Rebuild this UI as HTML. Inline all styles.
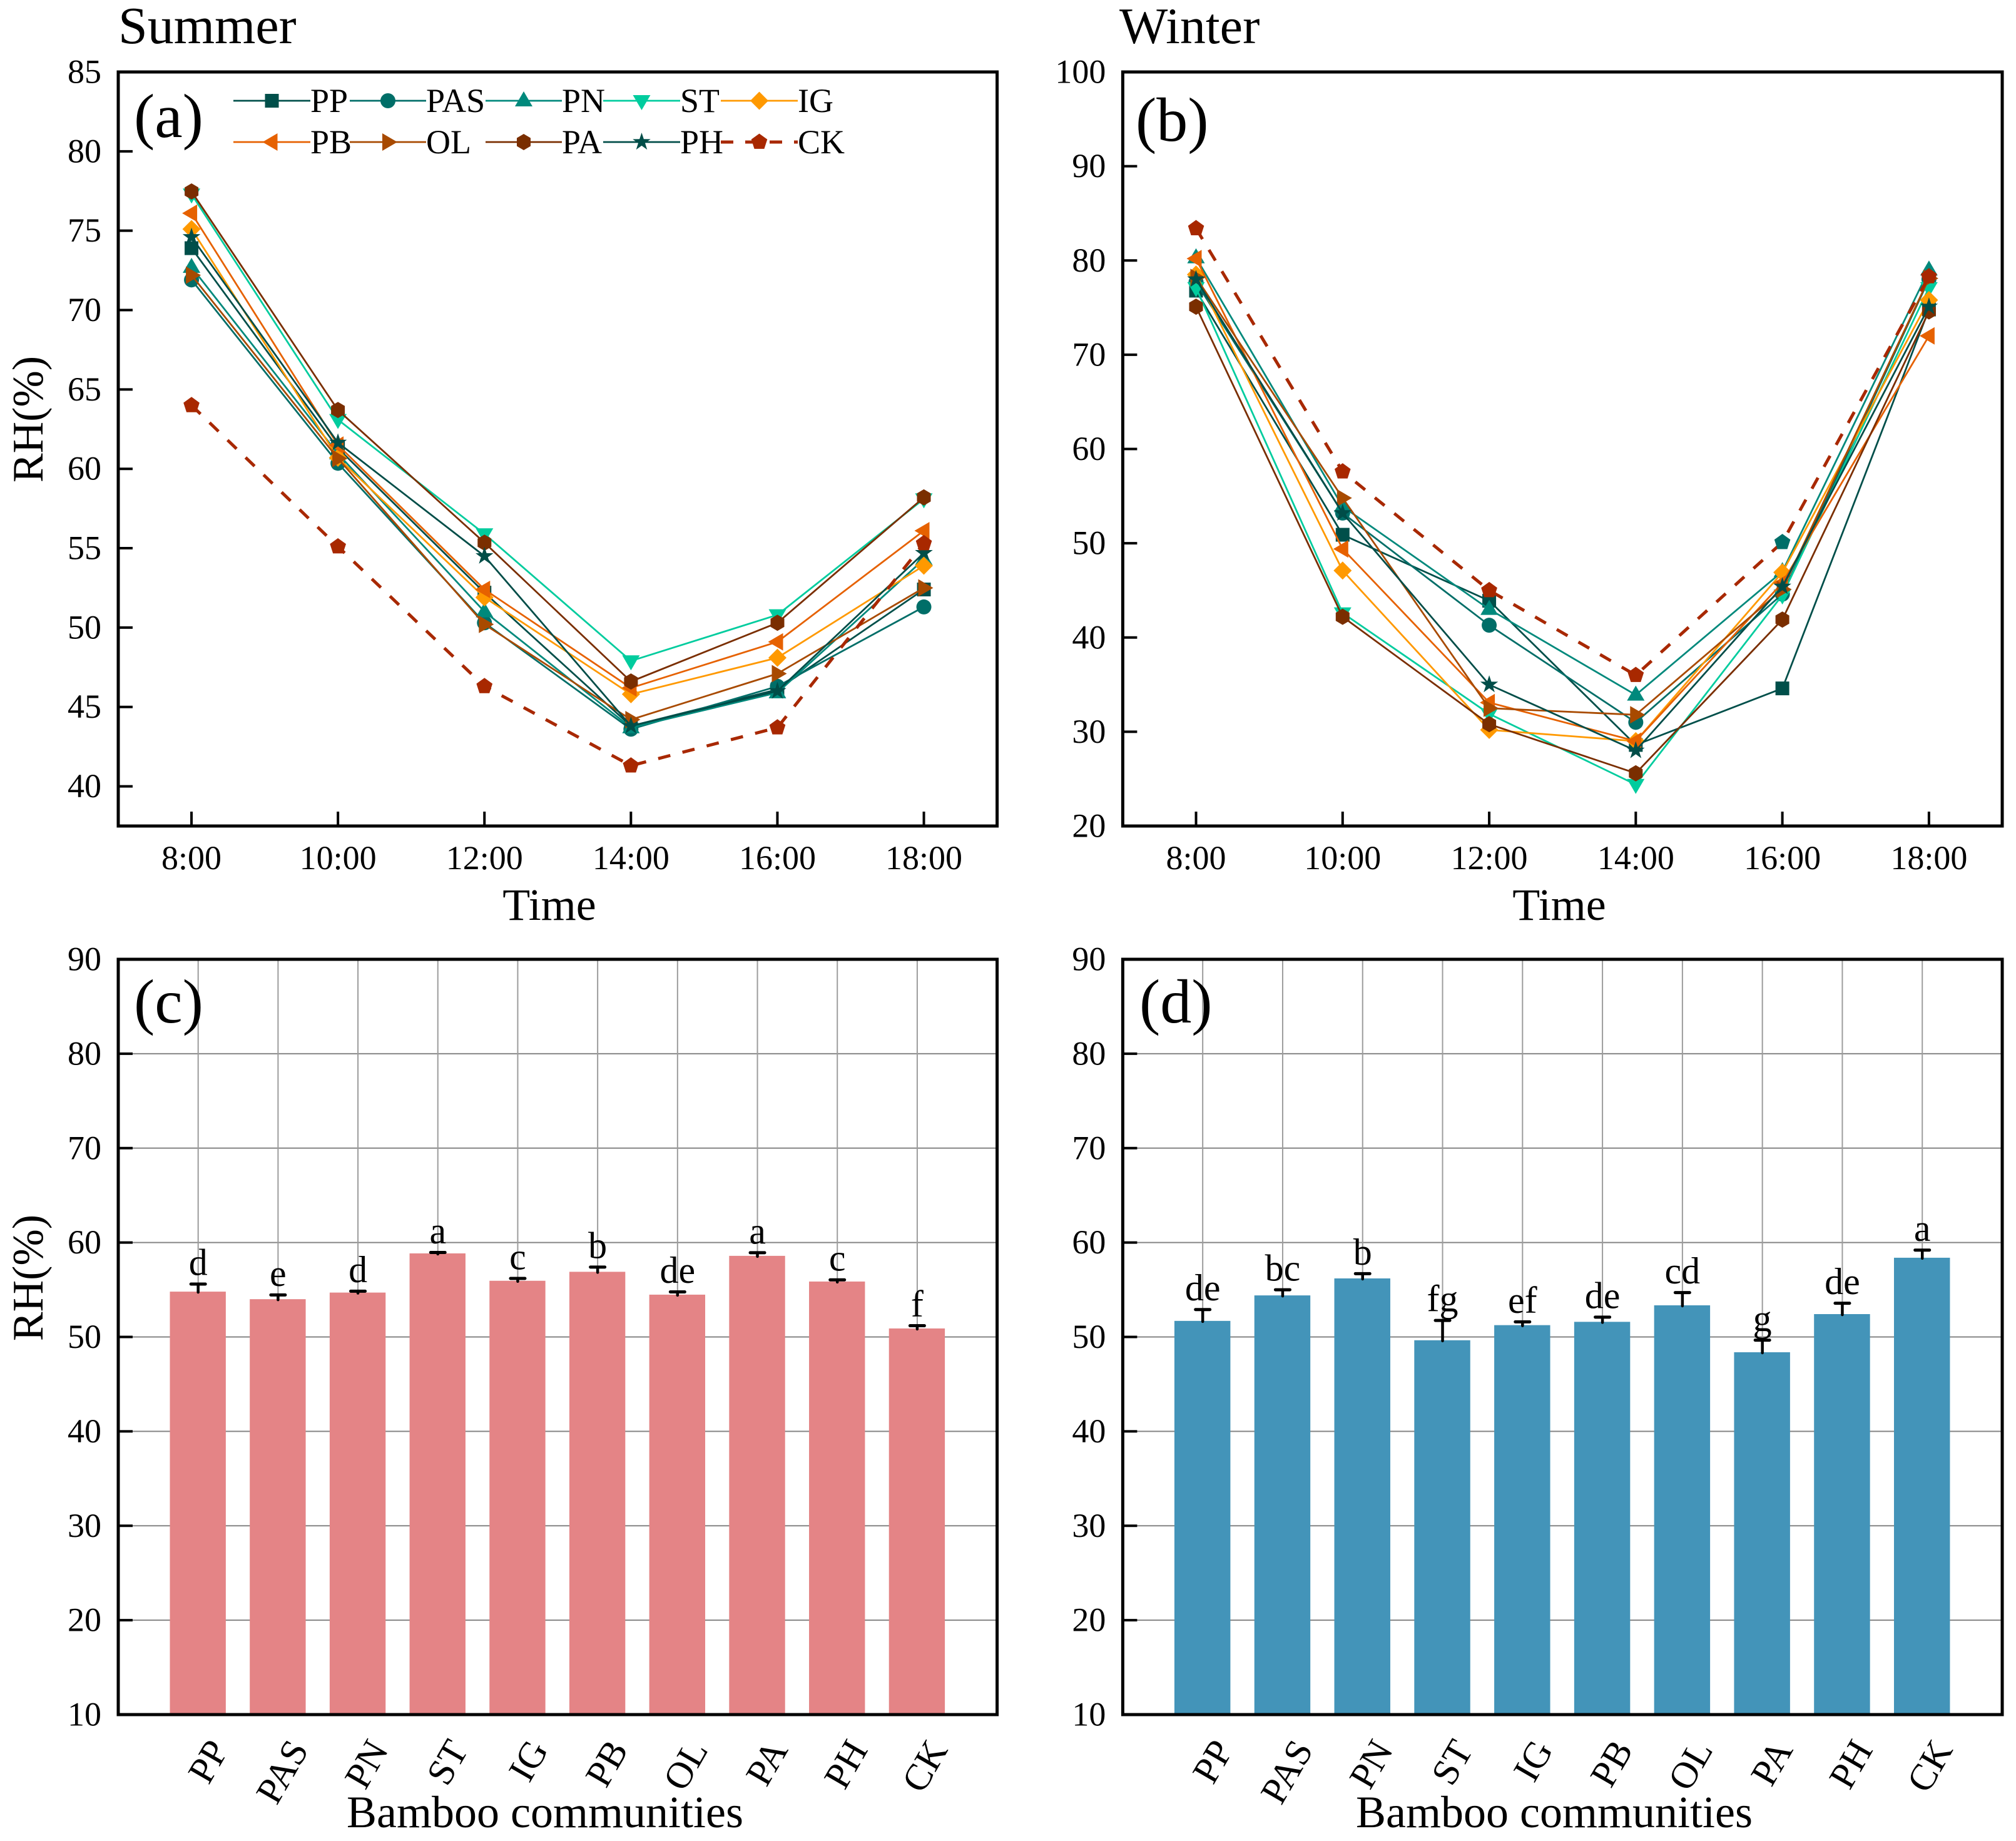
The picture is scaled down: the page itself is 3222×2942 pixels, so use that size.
<!DOCTYPE html>
<html lang="en">
<head>
<meta charset="utf-8">
<title>Relative humidity of bamboo communities</title>
<style>
html,body{margin:0;padding:0;background:#fff;}
svg{display:block;font-family:"Liberation Serif","Times New Roman",serif;}
</style>
</head>
<body>
<svg id="chart" xmlns="http://www.w3.org/2000/svg" width="3222" height="2942" viewBox="0 0 3222 2942">
<rect x="0" y="0" width="3222" height="2942" fill="#fff"/>
<text x="189" y="69" font-size="84">Summer</text>
<text x="1789" y="69" font-size="82">Winter</text>
<text x="878" y="1470" font-size="72" text-anchor="middle">Time</text>
<text x="2492" y="1470" font-size="72" text-anchor="middle">Time</text>
<text x="871" y="2920" font-size="72" text-anchor="middle">Bamboo communities</text>
<text x="2484" y="2920" font-size="72" text-anchor="middle">Bamboo communities</text>
<text transform="translate(68,670) rotate(-90)" font-size="70" text-anchor="middle">RH(%)</text>
<text transform="translate(68,2042) rotate(-90)" font-size="70" text-anchor="middle">RH(%)</text>
<g id="layer"></g>
<text x="214" y="219" font-size="100">(a)</text>
<text x="1815" y="225" font-size="100">(b)</text>
<text x="214" y="1634" font-size="100">(c)</text>
<text x="1821" y="1634" font-size="100">(d)</text>
</svg>
<script>
// ---- chart data ----
const timeLabels = ['8:00','10:00','12:00','14:00','16:00','18:00'];
const communities = ['PP','PAS','PN','ST','IG','PB','OL','PA','PH','CK'];

const summerTicks = [40,45,50,55,60,65,70,75,80,85];
const winterTicks = [20,30,40,50,60,70,80,90,100];
const barTicks = [10,20,30,40,50,60,70,80,90];

const summerPP  = [73.9,61.3,52.2,43.8,46.1,52.4];
const summerPAS = [71.9,60.35,50.3,43.6,46.3,51.3];
const summerPN  = [72.7,60.95,51.0,43.7,45.9,54.3];
const summerST  = [77.3,63.1,55.9,47.9,50.8,58.1];
const summerIG  = [75.1,60.7,51.9,45.8,48.1,53.9];
const summerPB  = [76.1,61.5,52.4,46.2,49.1,56.1];
const summerOL  = [72.2,60.65,50.2,44.2,47.1,52.5];
const summerPA  = [77.47,63.7,55.35,46.6,50.3,58.2];
const summerPH  = [74.6,61.65,54.5,43.8,46.0,54.7];
const summerCK  = [64.0,55.1,46.3,41.3,43.7,55.3];

const winterPP  = [76.8,50.9,43.9,28.6,34.6,74.8];
const winterPAS = [77.7,53.2,41.3,31.0,44.6,78.0];
const winterPN  = [80.3,53.9,43.0,33.9,47.0,79.0];
const winterST  = [77.1,42.6,31.9,24.4,44.5,77.1];
const winterIG  = [78.5,47.1,30.2,29.0,46.9,75.8];
const winterPB  = [80.2,49.4,33.1,29.0,45.8,72.0];
const winterOL  = [78.2,54.8,32.5,31.8,45.1,78.1];
const winterPA  = [75.1,42.2,30.8,25.6,41.9,74.6];
const winterPH  = [78.0,53.2,35.0,28.0,45.4,75.1];
const winterCK  = [83.4,57.6,45.0,36.0,50.1,78.3];

const summerBars = [54.8,54.0,54.7,58.85,55.95,56.9,54.48,58.59,55.87,50.9];
const summerErrs = [0.8,0.45,0.15,0.1,0.25,0.5,0.29,0.33,0.18,0.29];
const summerSig  = ['d','e','d','a','c','b','de','a','c','f'];

const winterBars = [51.7,54.4,56.2,49.65,51.25,51.6,53.35,48.38,52.42,58.39];
const winterErrs = [1.2,0.6,0.5,2.1,0.35,0.5,1.35,1.28,1.15,0.81];
const winterSig  = ['de','bc','b','fg','ef','de','cd','g','de','a'];

const summerSeries = [summerPP,summerPAS,summerPN,summerST,summerIG,summerPB,summerOL,summerPA,summerPH,summerCK];
const winterSeries = [winterPP,winterPAS,winterPN,winterST,winterIG,winterPB,winterOL,winterPA,winterPH,winterCK];

// ---- styling ----
const seriesColors = ['#004f4a','#006e68','#00897c','#00cc9e','#ff9900','#e66100','#a84a00','#7a2e00','#004d48','#a82800'];
const seriesShapes = ['square','circle','up','down','diamond','left','right','hexagon','star','pentagon'];
const NS = 'http://www.w3.org/2000/svg';
const layer = document.getElementById('layer');

function make(tag, attrs, parent){
  const el = document.createElementNS(NS, tag);
  for (const k in attrs) el.setAttribute(k, attrs[k]);
  (parent || layer).appendChild(el);
  return el;
}
function polyPts(cx, cy, list){
  return list.map(p => (cx+p[0]).toFixed(1)+','+(cy+p[1]).toFixed(1)).join(' ');
}
function regular(n, r, startDeg){
  const out = [];
  for (let i=0;i<n;i++){
    const a = (startDeg + i*360/n)*Math.PI/180;
    out.push([r*Math.cos(a), r*Math.sin(a)]);
  }
  return out;
}
function starPts(R, r){
  const out = [];
  for (let i=0;i<10;i++){
    const a = (-90 + i*36)*Math.PI/180;
    const q = i%2===0 ? R : r;
    out.push([q*Math.cos(a), q*Math.sin(a)]);
  }
  return out;
}
function drawMarker(shape, cx, cy, color, parent){
  if (shape==='circle') return make('circle',{cx:cx,cy:cy,r:12,fill:color},parent);
  if (shape==='square') return make('rect',{x:cx-11,y:cy-11,width:22,height:22,fill:color},parent);
  let p;
  if (shape==='up') p=[[0,-15],[14,9],[-14,9]];
  if (shape==='down') p=[[0,15],[14,-9],[-14,-9]];
  if (shape==='left') p=[[-15,0],[9,-14],[9,14]];
  if (shape==='right') p=[[15,0],[-9,-14],[-9,14]];
  if (shape==='diamond') p=[[0,-14.5],[14.5,0],[0,14.5],[-14.5,0]];
  if (shape==='hexagon') p=[[0,-13],[11,-6.5],[11,6.5],[0,13],[-11,6.5],[-11,-6.5]];
  if (shape==='pentagon') p=regular(5,13.5,-90);
  if (shape==='star') p=starPts(15,5.8);
  return make('polygon',{points:polyPts(cx,cy,p),fill:color},parent);
}
function drawFrame(box, prefix){
  const f = make('rect',{x:box.left,y:box.top,width:box.right-box.left,height:box.bottom-box.top,fill:'none',stroke:'#000','stroke-width':5});
  
  
}
function drawYAxis(box, ticks, yOf, prefix){
  const g = make('g',{});
  
  
  ticks.forEach(t => {
    const y = yOf(t);
    if (y > box.top + 1 && y < box.bottom - 1) {
      make('line',{x1:box.left,x2:box.left+23,y1:y,y2:y,stroke:'#000','stroke-width':4},g);
    }
    const lb = make('text',{x:box.left-27,y:y+17.5,'font-size':54,'text-anchor':'end',fill:'#000'},g);
    lb.textContent = t;
  });
}

// ---- line panels ----
function linePanel(box, ticks, yMin, yMax, seriesList, prefix, overrideIdx){
  const step = (box.right-box.left)/6;
  const xOf = i => box.left + step*(i+0.5);
  const yOf = v => box.bottom - (v-yMin)/(yMax-yMin)*(box.bottom-box.top);
  drawYAxis(box, ticks, yOf, prefix);
  const xg = make('g',{});
  
  
  timeLabels.forEach((t,i) => {
    const x = xOf(i);
    make('line',{x1:x,x2:x,y1:box.bottom,y2:box.bottom-23,stroke:'#000','stroke-width':4},xg);
    const lb = make('text',{x:x,y:1389,'font-size':54,'text-anchor':'middle',fill:'#000'},xg);
    lb.textContent = t;
  });
  seriesList.forEach((vals,s) => {
    const g = make('g',{});
    
    
    const pts = vals.map((v,i) => xOf(i).toFixed(1)+','+yOf(v).toFixed(1)).join(' ');
    const isCK = communities[s]==='CK';
    const attrs = {points:pts,fill:'none',stroke:seriesColors[s],'stroke-width':isCK?5:2.8,'stroke-linejoin':'round'};
    if (isCK) attrs['stroke-dasharray'] = '20 20';
    make('polyline',attrs,g);
    vals.forEach((v,i) => {
      const c = (isCK && i===overrideIdx) ? seriesColors[1] : seriesColors[s];
      drawMarker(seriesShapes[s], xOf(i), yOf(v), c, g);
    });
  });
  drawFrame(box, prefix);
}

// ---- bar panels ----
function barPanel(box, ticks, yMin, yMax, vals, errs, sig, color, prefix){
  const step = (box.right-box.left)/11;
  const xOf = i => box.left + step*(i+1);
  const yOf = v => box.bottom - (v-yMin)/(yMax-yMin)*(box.bottom-box.top);
  const grid = make('g',{});
  
  
  ticks.forEach(t => {
    const y = yOf(t);
    if (y > box.top + 1 && y < box.bottom - 1) {
      make('line',{x1:box.left,x2:box.right,y1:y,y2:y,stroke:'#858585','stroke-width':2},grid);
    }
  });
  communities.forEach((c,i) => {
    make('line',{x1:xOf(i),x2:xOf(i),y1:box.top,y2:box.bottom,stroke:'#9c9c9c','stroke-width':2},grid);
  });
  drawYAxis(box, ticks, yOf, prefix);
  vals.forEach((v,i) => {
    const x = xOf(i);
    const w = step*0.7;
    const bar = make('rect',{x:x-w/2-0.5,y:yOf(v),width:w,height:box.bottom-yOf(v),fill:color});
    
    
    const top = yOf(v+errs[i]);
    const eg = make('g',{stroke:'#000','stroke-linecap':'round'});
    
    
    make('line',{x1:x,x2:x,y1:top,y2:yOf(v)+1,'stroke-width':4.5},eg);
    make('line',{x1:x-11.5,x2:x+11.5,y1:top,y2:top,'stroke-width':5},eg);
    const s = make('text',{x:x,y:top-14.5,'font-size':60,'text-anchor':'middle',fill:'#000'});
    s.textContent = sig[i];
    
    
    const ex = x + 50, ey = 2796;
    const lb = make('text',{x:ex,y:ey,'font-size':60,'text-anchor':'end',fill:'#000',transform:'rotate(-60 '+ex+' '+ey+')'});
    lb.textContent = communities[i];
    
    
  });
  drawFrame(box, prefix);
}

const rowTop = {top:115,bottom:1320};
const rowBot = {top:1533,bottom:2740};
const colL = {left:189,right:1593.6};
const colR = {left:1794.4,right:3200};

linePanel(Object.assign({},colL,rowTop), summerTicks, 37.5, 85, summerSeries, 'panel-a', -1);
linePanel(Object.assign({},colR,rowTop), winterTicks, 20, 100, winterSeries, 'panel-b', 4);
barPanel(Object.assign({},colL,rowBot), barTicks, 10, 90, summerBars, summerErrs, summerSig, '#e48486', 'panel-c');
barPanel(Object.assign({},colR,rowBot), barTicks, 10, 90, winterBars, winterErrs, winterSig, '#4394b9', 'panel-d');

// ---- legend ----
const legendColumns = [[373,496],[559,681],[776,898],[964,1087],[1152,1275]];
const legendRows = [161,227];
communities.forEach((name,i) => {
  const col = legendColumns[i%5];
  const y = legendRows[Math.floor(i/5)];
  const g = make('g',{});
  
  
  const a = {x1:col[0],x2:col[1],y1:y,y2:y,stroke:seriesColors[i],'stroke-width':name==='CK'?5:2.8};
  if (name==='CK') a['stroke-dasharray'] = '20 19';
  make('line',a,g);
  drawMarker(seriesShapes[i],(col[0]+col[1])/2,y,seriesColors[i],g);
  const t = make('text',{x:col[1],y:y+18,'font-size':54,fill:'#000'},g);
  t.textContent = name;
});
</script>
</body>
</html>
